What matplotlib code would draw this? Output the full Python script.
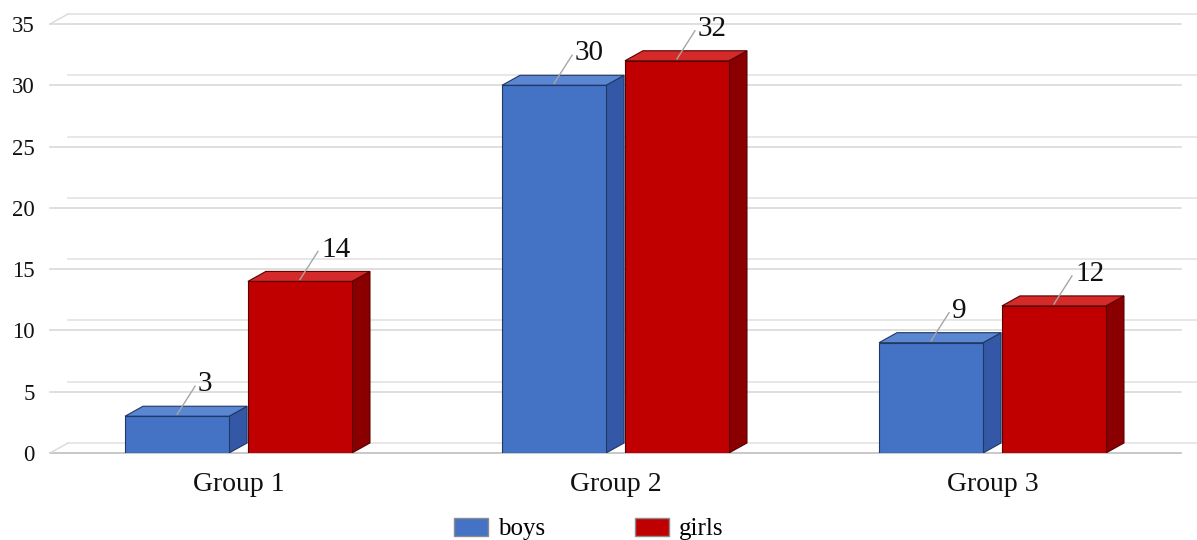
import matplotlib
matplotlib.use("Agg")
import matplotlib.pyplot as plt
from matplotlib.patches import Polygon, Patch

groups = ["Group 1", "Group 2", "Group 3"]
boys = [3, 30, 9]
girls = [14, 32, 12]
yticks = [0, 5, 10, 15, 20, 25, 30, 35]

plt.rcParams["font.family"] = ["Liberation Serif", "DejaVu Serif"]

W, H = 1197, 540
fig = plt.figure(figsize=(W / 100, H / 100), dpi=100)
# axes box in pixels: x 50..1181, y 24..453
ax = fig.add_axes([50 / W, (H - 453) / H, 1131 / W, 429 / H])
ax.set_xlim(0, 3)
ax.set_ylim(0, 35)

# depth of the 3d look, pixels -> data units
dx = 18 / 377
dy = 10 / (429 / 35)

for s in ax.spines.values():
    s.set_visible(False)

# gridlines: front and back walls
for t in yticks:
    c = "#BFBFBF" if t == 0 else "#D9D9D9"
    ax.plot([0, 3], [t, t], color=c, lw=1.2, clip_on=False, zorder=1)
    ax.plot([dx, 3 + dx + 0.01], [t + dy, t + dy], color="#E3E3E3", lw=1.2, clip_on=False, zorder=0)
for t in (0, 35):
    ax.plot([0, dx], [t, t + dy], color="#D9D9D9", lw=1.0, clip_on=False, zorder=1)

bw = 0.276
series = [
    (boys, -0.301, "#4472C4", "#5A86D2", "#3558A6", "#1F3864", "boys"),
    (girls, 0.025, "#C00000", "#D42A2A", "#8A0000", "#5A0000", "girls"),
]
for vals, off, front, top, side, edge, name in series:
    for i, v in enumerate(vals):
        x0 = i + 0.5 + off
        x1 = x0 + bw
        ax.add_patch(Polygon([(x1, 0), (x1 + dx, dy), (x1 + dx, v + dy), (x1, v)],
                             closed=True, facecolor=side, edgecolor=edge, lw=0.8, zorder=3))
        ax.add_patch(Polygon([(x0, v), (x1, v), (x1 + dx, v + dy), (x0 + dx, v + dy)],
                             closed=True, facecolor=top, edgecolor=edge, lw=0.8, zorder=3))
        ax.bar(x0, v, width=bw, align="edge", color=front, edgecolor=edge, lw=0.8, zorder=4)
        # leader line and label
        cx = (x0 + x1) / 2
        lx = cx + 18 / 377
        ly = v + 30 / (429 / 35)
        ax.plot([cx, lx], [v + 0.15, ly], color="#A6A6A6", lw=1.0, zorder=5, clip_on=False)
        ax.text(lx + 3 / 377, ly + 0.15, str(v), fontsize=21, ha="left", va="center",
                color="#111111", zorder=6, clip_on=False)

ax.set_yticks(yticks)
ax.set_yticklabels([str(t) for t in yticks], fontsize=16.5, color="#111111")
ax.set_xticks([0.5, 1.5, 2.5])
ax.set_xticklabels(groups, fontsize=20, color="#111111")
ax.tick_params(axis="y", length=0, pad=11)
ax.tick_params(axis="x", length=0, pad=14)

handles = [Patch(facecolor="#4472C4", edgecolor="#8C8C8C", label="boys"),
           Patch(facecolor="#C00000", edgecolor="#8C8C8C", label="girls")]
fig.legend(handles=handles, loc="center", bbox_to_anchor=(0.5 - 10 / W, 11 / H), ncol=2,
           frameon=False, fontsize=18, handlelength=1.36, handleheight=0.72,
           handletextpad=0.4, columnspacing=3.6)

fig.savefig("out.png", dpi=100)
